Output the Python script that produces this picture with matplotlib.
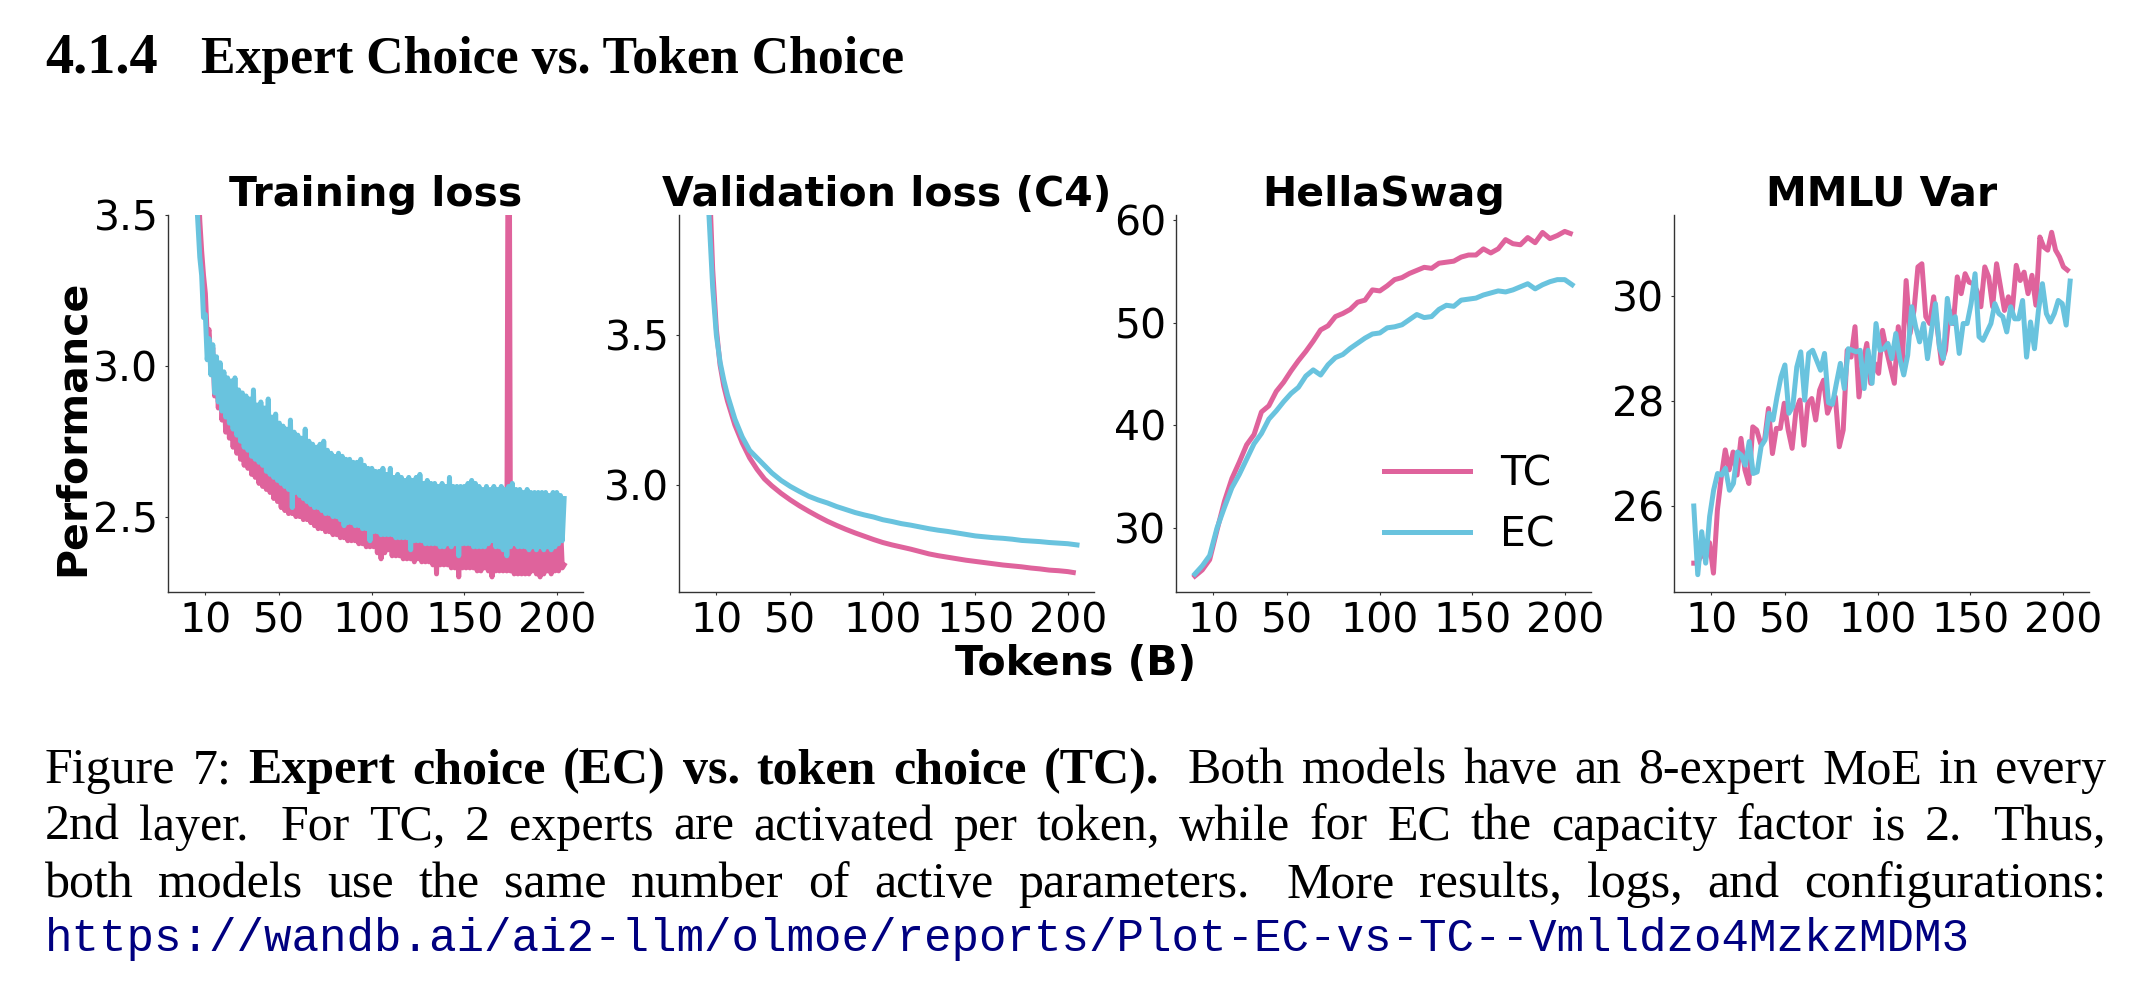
import numpy as np
import matplotlib
matplotlib.use('Agg')
import matplotlib.pyplot as plt

# ---- data (tokens in billions) ----
tc_color = '#df639c'
ec_color = '#69c3de'
x_ticks = [10, 50, 100, 150, 200]

# training loss, raw logged values every 1B tokens (noisy)
train_tok = np.arange(0, 205, 1)
train_tc = [10.9, 8.3, 5.8, 4.7, 4.1, 3.80, 3.62, 3.48, 3.38, 3.30,
            3.24, 3.10, 3.12, 3.00, 3.06, 2.90, 2.99, 2.86, 2.98, 2.82,
            2.93, 2.78, 2.92, 2.76, 2.90, 2.73, 2.88, 2.71, 2.86, 2.69,
            2.84, 2.67, 2.83, 2.66, 2.81, 2.64, 2.80, 2.63, 2.78, 2.61,
            2.77, 2.60, 2.76, 2.59, 2.75, 2.58, 2.74, 2.56, 2.73, 2.55,
            2.72, 2.53, 2.71, 2.52, 2.70, 2.51, 2.69, 2.51, 2.68, 2.50,
            2.68, 2.50, 2.67, 2.49, 2.66, 2.49, 2.65, 2.48, 2.65, 2.47,
            2.64, 2.46, 2.63, 2.46, 2.62, 2.45, 2.62, 2.45, 2.61, 2.44,
            2.61, 2.44, 2.60, 2.43, 2.60, 2.43, 2.59, 2.42, 2.59, 2.42,
            2.58, 2.42, 2.58, 2.41, 2.57, 2.41, 2.57, 2.40, 2.56, 2.40,
            2.56, 2.40, 2.56, 2.38, 2.55, 2.36, 2.55, 2.38, 2.55, 2.39,
            2.55, 2.37, 2.54, 2.37, 2.54, 2.37, 2.53, 2.36, 2.53, 2.36,
            2.53, 2.36, 2.53, 2.35, 2.52, 2.36, 2.52, 2.35, 2.52, 2.35,
            2.52, 2.35, 2.51, 2.34, 2.51, 2.31, 2.51, 2.34, 2.51, 2.34,
            2.51, 2.34, 2.51, 2.33, 2.50, 2.33, 2.50, 2.30, 2.50, 2.33,
            2.50, 2.33, 2.50, 2.33, 2.50, 2.33, 2.50, 2.32, 2.49, 2.32,
            2.49, 2.33, 2.49, 2.32, 2.49, 2.30, 2.49, 2.32, 2.49, 2.32,
            2.49, 2.32, 2.49, 2.32, 4.50, 2.32, 2.49, 2.31, 2.49, 2.31,
            2.49, 2.31, 2.48, 2.31, 2.48, 2.31, 2.48, 2.32, 2.48, 2.31,
            2.49, 2.30, 2.48, 2.31, 2.48, 2.32, 2.48, 2.31, 2.48, 2.32,
            2.48, 2.32, 2.48, 2.33, 2.34]
train_ec = [10.9, 8.0, 5.5, 4.5, 3.9, 3.58, 3.47, 3.36, 3.30, 3.16,
            3.17, 3.02, 3.09, 2.97, 3.07, 2.91, 3.03, 2.88, 3.01, 2.85,
            2.98, 2.83, 2.96, 2.81, 2.95, 2.79, 2.96, 2.77, 2.92, 2.75,
            2.91, 2.73, 2.90, 2.72, 2.89, 2.70, 2.92, 2.69, 2.87, 2.68,
            2.88, 2.67, 2.86, 2.65, 2.89, 2.64, 2.83, 2.63, 2.84, 2.62,
            2.81, 2.61, 2.80, 2.60, 2.79, 2.59, 2.82, 2.53, 2.78, 2.58,
            2.77, 2.57, 2.76, 2.56, 2.79, 2.55, 2.75, 2.54, 2.74, 2.53,
            2.73, 2.53, 2.74, 2.52, 2.75, 2.51, 2.72, 2.51, 2.71, 2.50,
            2.70, 2.50, 2.71, 2.49, 2.70, 2.47, 2.69, 2.48, 2.69, 2.48,
            2.68, 2.47, 2.68, 2.47, 2.69, 2.46, 2.67, 2.46, 2.66, 2.42,
            2.66, 2.45, 2.65, 2.45, 2.65, 2.44, 2.66, 2.44, 2.64, 2.44,
            2.66, 2.44, 2.63, 2.43, 2.64, 2.43, 2.63, 2.43, 2.62, 2.43,
            2.63, 2.39, 2.62, 2.42, 2.63, 2.42, 2.64, 2.42, 2.61, 2.41,
            2.62, 2.41, 2.61, 2.41, 2.61, 2.41, 2.60, 2.40, 2.61, 2.40,
            2.60, 2.41, 2.63, 2.40, 2.60, 2.41, 2.60, 2.37, 2.60, 2.41,
            2.60, 2.41, 2.61, 2.41, 2.62, 2.40, 2.61, 2.40, 2.60, 2.40,
            2.59, 2.40, 2.60, 2.41, 2.59, 2.42, 2.60, 2.40, 2.59, 2.40,
            2.60, 2.39, 2.59, 2.37, 2.60, 2.40, 2.61, 2.41, 2.59, 2.40,
            2.59, 2.40, 2.58, 2.40, 2.59, 2.39, 2.58, 2.40, 2.58, 2.39,
            2.58, 2.40, 2.58, 2.39, 2.58, 2.40, 2.57, 2.39, 2.58, 2.40,
            2.58, 2.41, 2.57, 2.42, 2.56]

# validation loss (C4)
val_tok = [0, 2, 4, 6, 8, 10, 12, 14, 16, 18, 20, 24, 28, 32, 36, 40, 45, 50, 55, 60,
           65, 70, 75, 80, 85, 90, 95, 100, 105, 110, 115, 120, 125, 130, 135, 140,
           145, 150, 155, 160, 165, 170, 175, 180, 185, 190, 195, 200]
val_tok_tc = val_tok + [203]
val_tok_ec = val_tok + [205]
val_tc = [10.9, 5.5, 4.5, 4.05, 3.72, 3.52, 3.40, 3.33, 3.28, 3.24, 3.20, 3.14, 3.09,
          3.052, 3.02, 2.997, 2.972, 2.950, 2.930, 2.912, 2.895, 2.879, 2.865, 2.852,
          2.840, 2.829, 2.818, 2.808, 2.800, 2.793, 2.786, 2.778, 2.770, 2.764, 2.759,
          2.754, 2.749, 2.745, 2.741, 2.737, 2.733, 2.730, 2.727, 2.723, 2.720, 2.716,
          2.714, 2.711, 2.708]
val_ec = [10.9, 5.2, 4.3, 3.90, 3.66, 3.50, 3.41, 3.35, 3.30, 3.26, 3.22, 3.16, 3.115,
          3.09, 3.065, 3.04, 3.015, 2.995, 2.978, 2.962, 2.950, 2.940, 2.928, 2.918,
          2.908, 2.900, 2.893, 2.884, 2.878, 2.871, 2.866, 2.860, 2.854, 2.849, 2.845,
          2.840, 2.835, 2.830, 2.827, 2.824, 2.822, 2.819, 2.815, 2.813, 2.811, 2.808,
          2.806, 2.804, 2.800]

# HellaSwag accuracy
hs_tok_tc = list(range(0, 201, 4)) + [203]
hs_tok_ec = list(range(0, 201, 4)) + [204]
hs_tc = [25.3, 25.9, 26.9, 29.8, 32.6, 34.8, 36.4, 38.1, 39.1, 41.3,
         41.9, 43.3, 44.2, 45.3, 46.3, 47.2, 48.2, 49.3, 49.7, 50.6,
         50.9, 51.3, 52.0, 52.2, 53.2, 53.1, 53.6, 54.2, 54.4, 54.8,
         55.1, 55.4, 55.3, 55.8, 55.9, 56.0, 56.4, 56.6, 56.6, 57.2,
         56.8, 57.2, 58.1, 57.7, 57.6, 58.3, 57.8, 58.8, 58.2, 58.5,
         58.9, 58.7]
hs_ec = [25.5, 26.3, 27.3, 30.0, 32.0, 33.9, 35.2, 36.7, 38.2, 39.2,
         40.6, 41.4, 42.3, 43.1, 43.7, 44.8, 45.4, 44.9, 45.9, 46.6,
         46.9, 47.5, 48.0, 48.5, 48.9, 49.0, 49.5, 49.6, 49.8, 50.3,
         50.8, 50.5, 50.6, 51.3, 51.7, 51.6, 52.2, 52.3, 52.4, 52.7,
         52.9, 53.1, 53.0, 53.2, 53.5, 53.8, 53.3, 53.7, 54.0, 54.2,
         54.2, 53.7]

# MMLU Var accuracy
mmlu_tc = [24.91, 24.91, 25.10, 25.00, 25.30, 24.72, 25.92, 26.56, 27.07, 26.69,
           27.03, 26.59, 27.29, 26.69, 26.43, 27.51, 27.45, 27.19, 27.26, 27.86,
           27.00, 27.48, 27.48, 27.96, 27.45, 27.10, 27.83, 28.02, 27.16, 27.96,
           28.05, 27.64, 28.21, 28.40, 27.77, 27.96, 28.08, 27.13, 27.45, 28.97,
           28.84, 29.42, 28.08, 28.72, 29.10, 28.34, 28.72, 28.53, 29.35, 28.97,
           28.65, 28.34, 29.42, 28.72, 30.30, 29.29, 29.73, 30.56, 30.62, 29.61,
           29.48, 29.99, 29.35, 28.72, 28.97, 29.73, 29.48, 30.37, 30.05, 30.43,
           30.27, 30.24, 30.11, 29.80, 30.56, 30.37, 29.80, 30.62, 30.18, 29.73,
           29.99, 29.73, 30.59, 30.30, 30.46, 30.05, 30.40, 29.83, 31.13, 30.94,
           30.88, 31.22, 30.88, 30.75, 30.56, 30.50]
mmlu_ec = [26.00, 24.69, 25.51, 24.91, 25.80, 26.30, 26.62, 26.59, 26.72, 26.30,
           26.43, 27.03, 26.97, 26.78, 27.23, 26.62, 26.65, 27.14, 27.26, 27.77,
           27.64, 28.08, 28.46, 28.69, 27.77, 27.90, 28.65, 28.94, 28.02, 28.91,
           28.97, 28.78, 28.59, 28.91, 27.97, 27.94, 28.34, 28.72, 28.24, 29.00,
           28.97, 28.94, 28.97, 28.24, 28.97, 28.34, 29.48, 28.97, 29.00, 29.10,
           28.81, 29.29, 28.81, 28.50, 28.88, 29.80, 29.42, 29.13, 29.48, 28.81,
           29.35, 29.86, 29.03, 28.81, 29.96, 29.48, 29.61, 28.91, 29.48, 29.48,
           29.86, 30.43, 29.23, 29.16, 29.32, 29.48, 29.86, 29.67, 29.61, 29.32,
           29.80, 29.57, 29.57, 29.92, 28.84, 29.51, 29.00, 29.73, 30.24, 29.67,
           29.51, 29.67, 29.92, 29.86, 29.45, 30.29]
mmlu_tok_tc = np.linspace(0.5, 202.5, len(mmlu_tc))
mmlu_tok_ec = np.linspace(0.5, 204, len(mmlu_ec))

titles = ['Training loss', 'Validation loss (C4)', 'HellaSwag', 'MMLU Var']

# ---- figure ----
W, H, DPI = 2132, 986, 100
fig = plt.figure(figsize=(W / DPI, H / DPI), dpi=DPI)
fig.patch.set_facecolor('white')

panel_left = [168, 679, 1176, 1674]
ax_w, ax_top, ax_bot = 415, 215, 592
axes = [fig.add_axes([l / W, 1 - ax_bot / H, ax_w / W, (ax_bot - ax_top) / H]) for l in panel_left]

fs = 29.5
lw = 3.6
panels = [
    (train_tok, train_tc, train_tok, train_ec, (2.25, 3.5), [2.5, 3.0, 3.5]),
    (val_tok_tc, val_tc, val_tok_ec, val_ec, (2.643, 3.90), [3.0, 3.5]),
    (hs_tok_tc, hs_tc, hs_tok_ec, hs_ec, (23.75, 60.5), [30, 40, 50, 60]),
    (mmlu_tok_tc, mmlu_tc, mmlu_tok_ec, mmlu_ec, (24.36, 31.55), [26, 28, 30]),
]
for ax, (xt, yt, xe, ye, ylim, yticks), title in zip(axes, panels, titles):
    ax.plot(xt, yt, color=tc_color, lw=lw, label='TC')
    ax.plot(xe, ye, color=ec_color, lw=lw, label='EC')
    ax.set_xlim(-10.2, 214.2)
    ax.set_ylim(*ylim)
    ax.set_xticks(x_ticks)
    ax.set_yticks(yticks)
    ax.spines[['top', 'right']].set_visible(False)
    for s in ('left', 'bottom'):
        ax.spines[s].set_linewidth(1.0)
        ax.spines[s].set_color('#333333')
    ax.tick_params(labelsize=fs, length=2, width=0.8, pad=4.8, color='#333333')
    ax.set_title(title, fontsize=fs, fontweight='bold', pad=6)

axes[2].legend(frameon=False, fontsize=fs, loc='lower right', handlelength=2.1,
               handletextpad=0.73, labelspacing=0.5)

fig.text(1075.5 / W, 1 - 675 / H, 'Tokens (B)', fontsize=fs, fontweight='bold',
         ha='center', va='baseline')
fig.text(73 / W, 1 - 427.5 / H, 'Performance', fontsize=fs, fontweight='bold',
         rotation=90, ha='center', va='center')

# ---- heading and caption (paper text around the figure) ----
renderer = fig.canvas.get_renderer()
serif = 'Liberation Serif'


def fitted(x, y, s, width, **kw):
    t = fig.text(x / W, 1 - y / H, s, fontsize=20, va='baseline', ha='left', **kw)
    w = t.get_window_extent(renderer).width
    t.set_fontsize(20 * width / w)
    return t


fitted(45, 72.7, '4.1.4', 113, family=serif, fontweight='bold')
fitted(201, 72.7, 'Expert Choice vs. Token Choice', 703, family=serif, fontweight='bold')


def justified(words, base_y, x0=45, x1=2106, size=36):
    items = [fig.text(0, 1 - base_y / H, w, fontsize=size, family=serif,
                      fontweight='bold' if b else 'normal', va='baseline', ha='left')
             for w, b in words]
    widths = [t.get_window_extent(renderer).width for t in items]
    # a little extra space after a sentence, as TeX does
    extra = [12 if (w.endswith('.') and w != 'vs.') else 0 for w, b in words[:-1]]
    gap = (x1 - x0 - sum(widths) - sum(extra)) / (len(items) - 1)
    x = x0
    for i, (t, w) in enumerate(zip(items, widths)):
        t.set_x(x / W)
        x += w + gap + (extra[i] if i < len(extra) else 0)


line1 = [(w, False) for w in 'Figure 7:'.split()] + \
        [(w, True) for w in 'Expert choice (EC) vs. token choice (TC).'.split()] + \
        [(w, False) for w in 'Both models have an 8-expert MoE in every'.split()]
line2 = [(w, False) for w in '2nd layer. For TC, 2 experts are activated per token, '
         'while for EC the capacity factor is 2. Thus,'.split()]
line3 = [(w, False) for w in 'both models use the same number of active parameters. '
         'More results, logs, and configurations:'.split()]
justified(line1, 783)
justified(line2, 840)
justified(line3, 897)
fitted(45, 951, 'https://wandb.ai/ai2-llm/olmoe/reports/Plot-EC-vs-TC--Vmlldzo4MzkzMDM3',
       1921, family='Liberation Mono', color='#000080')

fig.savefig('out.png', dpi=DPI)
